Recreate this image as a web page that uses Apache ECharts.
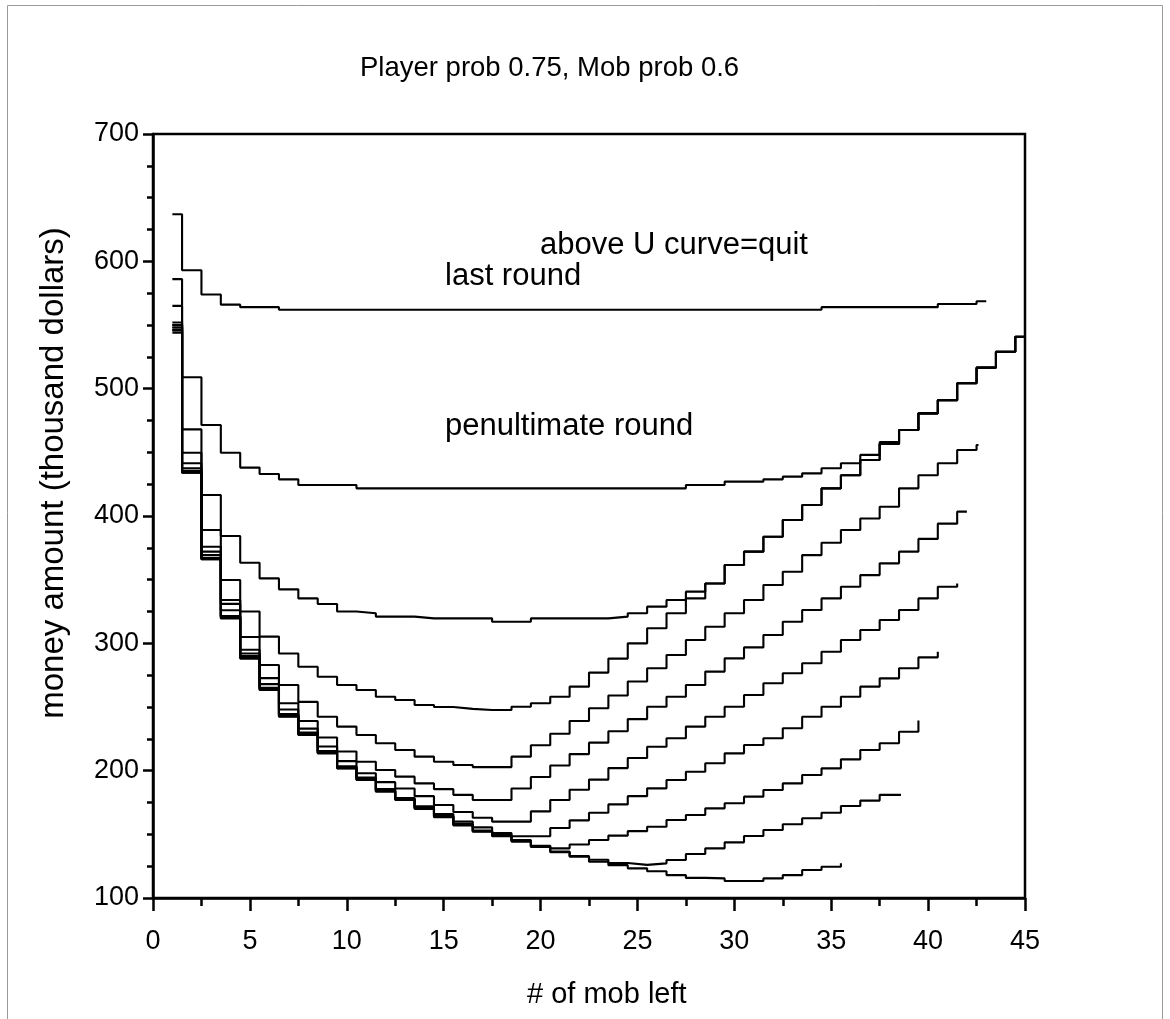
<!DOCTYPE html>
<html>
<head>
<meta charset="utf-8">
<script src="https://cdn.jsdelivr.net/npm/echarts@6/dist/echarts.min.js"></script>
<style>
  html, body { margin: 0; padding: 0; background: #fff; }
  #chart { width: 1170px; height: 1019px; }
</style>
</head>
<body>
<div id="chart"></div>
<script>
// 每条曲线: 第 n 个值是 "mob left = n" 时的阈值 (千美元)
const lastRound = [637, 593, 574, 566, 564, 564,
  562, 562, 562, 562, 562, 562, 562, 562, 562, 562, 562, 562, 562, 562,
  562, 562, 562, 562, 562, 562, 562, 562, 562, 562, 562, 562, 562, 562,
  564, 564, 564, 564, 564, 564, 566.5, 566.5, 568.6];
const penultRound = [586, 509, 471.5, 449.7, 438, 433, 428.8, 424.3, 424.3, 424.3,
  421.7, 421.7, 421.7, 421.7, 421.7, 421.7, 421.7, 421.7, 421.7, 421.7,
  421.7, 421.7, 421.7, 421.7, 421.7, 421.7, 421.7,
  424.3, 424.3, 427, 427, 428.8, 430.9, 433.5, 437.5, 441.4, 448,
  458, 467.5, 480.6, 491, 504.2, 516.5, 529, 540.8];
const round3 = [565, 468, 416.5, 384.3, 363.3, 351, 342.4, 335.3, 330.9, 325,
  323.6, 321, 321,
  319.6, 319.6, 319.6, 319.6, 317, 317, 319.6, 319.6, 319.6, 319.6,
  321, 323.6, 328.8, 334, 340.6, 347, 361.5, 372, 383.7, 396.8, 408.6,
  421.7, 432, 444, 456.5, 467.5, 480.6, 491, 504.2, 516.5, 529, 540.8];
const round4 = [552, 449.7, 389, 349.7, 325, 305.3, 292, 281.6, 273.8, 267.3,
  263.3, 258.1, 255.5, 251.6,
  250, 248.5, 247.6, 247.6, 250.2, 253,
  258, 266, 277, 288, 300, 311.8, 323.6, 335.3,
  347, 361.5, 372, 383.7, 396.8, 408.6, 421.7, 432, 444, 456.5,
  467.5, 480.6, 491, 504.2, 516.5, 529, 540.8];
const round5 = [550, 441.4, 375.9, 334, 305, 283, 267.3, 254, 242.4, 234.6,
  228, 221.5, 216.2, 211, 207, 204.5, 202.8, 202.8,
  211, 220, 229, 239, 249, 259, 270,
  280.4, 290.8, 302.6, 313, 323.6, 334, 345.8, 356.2, 369.3, 379,
  389, 398, 407.3, 421.7, 432, 441.4, 451.8, 455.8];
const round6 = [550, 437.5, 372, 331, 295, 272.7, 253, 239, 226, 215,
  207, 200.5, 195.3, 190, 185.5, 181, 177, 177,
  186, 195, 204, 213, 222, 231, 240.5,
  250.2, 258.1, 267.3, 277.8, 288.2, 296.8, 306.5, 317, 326.2, 335.3,
  344.4, 353.6, 362.8, 372, 382, 394, 403.4];
const round7 = [548, 435.5, 369.3, 326, 292, 268, 248, 233, 219, 207.5,
  198, 191, 186, 180, 173, 167.5, 163, 160, 160,
  168, 177, 185, 193, 202, 210,
  218.8, 225.4, 234.6, 242.4, 250.2, 259.4, 268.6, 276.5, 284.3, 293.4,
  302.6, 310.5, 318.3, 326.2, 335.3, 344.4, 347];
const round8 = [548, 435, 367, 321.5, 290, 265, 244.5, 230, 215.5, 203.5,
  194.5, 185.5, 178.5, 172, 166, 160, 155.5, 151, 148.5, 148.5,
  155, 161, 167, 173.5, 180,
  186.1, 192.7, 199.2, 205.8, 213.6, 220.1, 225.4, 233.3, 242.4, 250.2,
  258.1, 266, 272.5, 280.4, 289, 293.4];
const round9 = [546, 434.5, 366.5, 321, 289, 264.5, 243.5, 229, 214.5, 202.5,
  193.5, 184.5, 178, 171, 164.5, 158, 153, 149.5, 145.5, 141, 139,
  142, 145.5, 149, 152.5,
  156, 161.2, 165.2, 170.4, 174.4, 179.6, 184.8, 190, 196.6, 201.8,
  208.9, 216.2, 221.5, 230.6, 239.3];
const round10 = [546, 434, 366, 320, 288.5, 263.8, 242.8, 228.5, 214, 202,
  193, 184, 177.5, 170.5, 164, 157.5, 152.5, 149, 144.8, 140.5, 136.5,
  133, 130, 127.5, 126,
  127.2, 129.8, 134.5, 139, 143.7, 148.7, 153.4, 157.9, 162.6, 167,
  172.3, 176.5, 181];
const round11 = [544, 434, 366, 319.6, 288, 263.3, 242.3, 228, 213.6, 201.8,
  192.7, 183.5, 177, 170, 163.5, 157, 152, 148.5, 144.3, 140,
  136, 132.4, 128.5, 125.8, 123.3, 121, 118, 115.8, 115.4, 113.3,
  113.3, 115.4, 118, 122, 124.6, 127.2];

// 每条曲线最右端的 x
const curves = [
  { vals: lastRound, endX: 43 },
  { vals: penultRound, endX: 45 },
  { vals: round3, endX: 45 },
  { vals: round4, endX: 45 },
  { vals: round5, endX: 42.6 },
  { vals: round6, endX: 42 },
  { vals: round7, endX: 41.5 },
  { vals: round8, endX: 40.5 },
  { vals: round9, endX: 39.5 },
  { vals: round10, endX: 38.6 },
  { vals: round11, endX: 35.5 }
];

const xTicks = [0, 5, 10, 15, 20, 25, 30, 35, 40, 45];
const yTicks = [100, 200, 300, 400, 500, 600, 700];

/**
 * 阶梯点: 第 n 段从 n-0.5 画到 n+0.5 (第一段从 1 开始)
 */
function toStairs(vals, endX) {
  const pts = vals.map((v, i) => [i === 0 ? 1 : i + 0.5, v]);
  pts.push([endX, vals[vals.length - 1]]);
  return pts;
}

const FONT = '"Liberation Sans", Arial, sans-serif';

const chart = echarts.init(document.getElementById('chart'), null, { renderer: 'canvas' });

const option = {
  animation: false,
  backgroundColor: '#fff',
  grid: {
    left: 153, top: 134, width: 872, height: 764,
    show: true, borderColor: '#000', borderWidth: 2.5,
    containLabel: false
  },
  xAxis: {
    type: 'value',
    min: xTicks[0], max: xTicks[xTicks.length - 1], interval: 5,
    axisLine: { show: true, onZero: false, lineStyle: { color: '#000', width: 2.5 } },
    axisTick: { show: true, inside: false, length: 13, lineStyle: { color: '#000', width: 2.5 } },
    minorTick: { show: true, splitNumber: 2, length: 8, lineStyle: { color: '#000', width: 2.5 } },
    splitLine: { show: false },
    axisLabel: { fontFamily: FONT, fontSize: 27, color: '#000', margin: 30 }
  },
  yAxis: {
    type: 'value',
    min: yTicks[0], max: yTicks[yTicks.length - 1], interval: 100,
    axisLine: { show: true, onZero: false, lineStyle: { color: '#000', width: 2.5 } },
    axisTick: { show: true, inside: false, length: 10, lineStyle: { color: '#000', width: 2.5 } },
    minorTick: { show: true, splitNumber: 4, length: 6, lineStyle: { color: '#000', width: 2.5 } },
    splitLine: { show: false },
    axisLabel: { fontFamily: FONT, fontSize: 27, color: '#000', margin: 14 }
  },
  series: curves.map((c, i) => ({
    name: 'r' + i,
    type: 'line',
    step: 'end',
    showSymbol: false,
    symbol: 'none',
    clip: true,
    lineStyle: { color: '#000', width: 2.1 },
    data: toStairs(c.vals, c.endX)
  })),
  graphic: [
    {
      type: 'rect', silent: true,
      shape: { x: 7.5, y: 5.5, width: 1155, height: 1020 },
      style: { fill: 'none', stroke: '#9a9a9a', lineWidth: 1 }
    },
    {
      type: 'text', left: 360, top: 54,
      style: { text: 'Player prob 0.75, Mob prob 0.6', font: '27.5px ' + FONT, fill: '#000' }
    },
    {
      type: 'text', left: 540, top: 230,
      style: { text: 'above U curve=quit', font: '31px ' + FONT, fill: '#000' }
    },
    {
      type: 'text', left: 445, top: 261,
      style: { text: 'last round', font: '31px ' + FONT, fill: '#000' }
    },
    {
      type: 'text', left: 445, top: 411,
      style: { text: 'penultimate round', font: '31px ' + FONT, fill: '#000' }
    },
    // 坐标轴名称
    {
      type: 'text', left: 527, top: 980,
      style: { text: '# of mob left', font: '29px ' + FONT, fill: '#000' }
    },
    {
      type: 'text', x: 54, y: 473, rotation: Math.PI / 2,
      style: {
        text: 'money amount (thousand dollars)', font: '33px ' + FONT, fill: '#000',
        textAlign: 'center', textVerticalAlign: 'middle'
      }
    }
  ]
};

chart.setOption(option);
</script>
</body>
</html>
